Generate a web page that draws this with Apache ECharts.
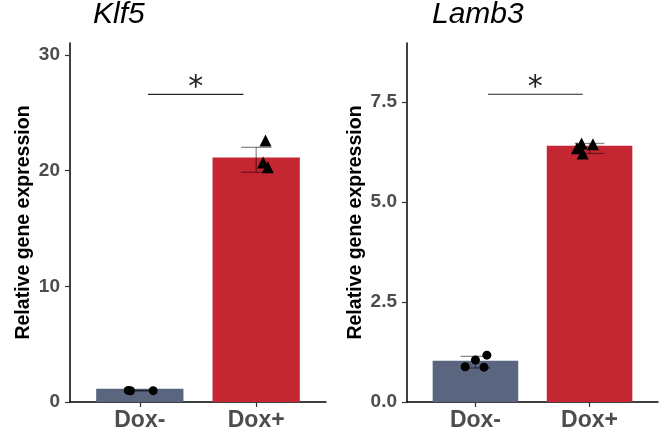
<!DOCTYPE html>
<html><head><meta charset="utf-8">
<script src="https://cdn.jsdelivr.net/npm/echarts@6/dist/echarts.min.js"></script>
<style>html,body{margin:0;padding:0;background:#fff}#c{width:664px;height:433px}</style>
</head><body><div id="c"></div>
<script>
// ---------- data ----------
const categories = ['Dox-', 'Dox+'];

const klf5Means = [1.15, 21.15];
const klf5ErrLow = [0.96, 19.86];
const klf5ErrHigh = [1.0, 22.02];
const klf5MinusPoints = [1.0, 0.97, 0.98];
const klf5MinusJitter = [-0.10, -0.08, 0.115];
const klf5PlusPoints = [22.6, 20.7, 20.3];
const klf5PlusJitter = [0.08, 0.06, 0.10];
const klf5Ticks = [0, 10, 20, 30];
const klf5YMax = 31.04;
const klf5Sig = [1.07, 1.89, 26.6];

const lamb3Means = [1.03, 6.40];
const lamb3ErrLow = [0.85, 6.21];
const lamb3ErrHigh = [1.14, 6.46];
const lamb3MinusPoints = [0.88, 1.05, 1.17, 0.87];
const lamb3MinusJitter = [-0.09, 0.0, 0.10, 0.075];
const lamb3PlusPoints = [6.46, 6.44, 6.34, 6.21];
const lamb3PlusJitter = [-0.07, 0.03, -0.11, -0.06];
const lamb3Ticks = [0, 2.5, 5, 7.5];
const lamb3YMax = 8.97;
const lamb3Sig = [1.11, 1.94, 7.69];

// ---------- styles ----------
const FONT = 'Liberation Sans';
const barColors = ['#5a6580', '#c42731'];
const W = 664;
const grids = [
  {left: 70, right: 338, top: 43, bottom: 31},
  {left: 407, right: 6, top: 43, bottom: 31}
];
const xMin = 0.4, xMax = 2.6;

function gridWidth(g) { return W - g.left - g.right; }

function xAxisDef(i) {
  return {
    type: 'value', gridIndex: i, min: xMin, max: xMax,
    splitLine: {show: false},
    axisLine: {show: true, lineStyle: {color: '#000', width: 1.5}},
    axisTick: {show: true, customValues: [1, 2], length: 5, lineStyle: {color: '#333', width: 1.2}},
    axisLabel: {
      customValues: [1, 2], margin: 7,
      formatter: v => categories[Math.round(v) - 1],
      fontFamily: FONT, fontSize: 23, fontWeight: 'bold', color: '#4d4d4d'
    }
  };
}
function yAxisDef(i, ticks, ymax, digits, nameGap) {
  return {
    type: 'value', gridIndex: i, min: 0, max: ymax,
    splitLine: {show: false},
    axisLine: {show: true, lineStyle: {color: '#000', width: 1.5}},
    axisTick: {show: true, customValues: ticks, length: 5, lineStyle: {color: '#333', width: 1.2}},
    axisLabel: {
      customValues: ticks, margin: 10,
      formatter: v => v.toFixed(digits),
      fontFamily: FONT, fontSize: 19, fontWeight: 'bold', color: '#4d4d4d'
    },
    name: 'Relative gene expression', nameLocation: 'middle', nameGap: nameGap,
    nameTextStyle: {fontFamily: FONT, fontSize: 19.5, fontWeight: 'bold', color: '#000'}
  };
}

function errorRender(capHalf) {
  return function (params, api) {
    const x = api.value(0), lo = api.value(1), hi = api.value(2);
    const pLo = api.coord([x, lo]), pHi = api.coord([x, hi]);
    const l = api.coord([x - capHalf, lo])[0], r = api.coord([x + capHalf, lo])[0];
    const st = {stroke: 'rgba(0,0,0,0.45)', lineWidth: 1.3};
    return {type: 'group', children: [
      {type: 'line', shape: {x1: pLo[0], y1: pLo[1], x2: pHi[0], y2: pHi[1]}, style: st},
      {type: 'line', shape: {x1: l, y1: pLo[1], x2: r, y2: pLo[1]}, style: st},
      {type: 'line', shape: {x1: l, y1: pHi[1], x2: r, y2: pHi[1]}, style: st}
    ]};
  };
}
function sigRender(params, api) {
  const a = api.coord([api.value(0), api.value(2)]);
  const b = api.coord([api.value(1), api.value(2)]);
  return {type: 'group', children: [
    {type: 'line', shape: {x1: a[0], y1: a[1], x2: b[0], y2: b[1]}, style: {stroke: '#2b2222', lineWidth: 1.2}},
    {type: 'text', style: {text: '*', x: (a[0] + b[0]) / 2, y: a[1] - 6, textAlign: 'center', textVerticalAlign: 'middle',
      font: '30px "DejaVu Sans"', fill: '#222'}}
  ]};
}

function panelSeries(i, means, lo, hi, minusPts, minusJit, plusPts, plusJit, sig) {
  const bw = 0.75 * gridWidth(grids[i]) / (xMax - xMin);
  return [
    {type: 'bar', xAxisIndex: i, yAxisIndex: i, barWidth: bw, z: 1,
     data: means.map((v, k) => ({value: [k + 1, v], itemStyle: {color: barColors[k]}}))},
    {type: 'custom', xAxisIndex: i, yAxisIndex: i, z: 3, renderItem: errorRender(0.13),
     encode: {x: 0, y: [1, 2]},
     data: means.map((v, k) => [k + 1, lo[k], hi[k]])},
    {type: 'scatter', xAxisIndex: i, yAxisIndex: i, z: 4, symbol: 'circle', symbolSize: 9,
     itemStyle: {color: '#000', opacity: 1},
     data: minusPts.map((v, k) => [1 + minusJit[k], v])},
    {type: 'scatter', xAxisIndex: i, yAxisIndex: i, z: 4, symbol: 'triangle', symbolSize: 12,
     itemStyle: {color: '#000', opacity: 1},
     data: plusPts.map((v, k) => [2 + plusJit[k], v])},
    {type: 'custom', xAxisIndex: i, yAxisIndex: i, z: 5, renderItem: sigRender,
     encode: {x: [0, 1], y: 2}, data: [sig]}
  ];
}

const chart = echarts.init(document.getElementById('c'), null, {renderer: 'canvas'});
chart.setOption({
  backgroundColor: '#fff',
  animation: false,
  title: [
    {text: 'Klf5', left: 93, top: 0, padding: 0,
     textStyle: {fontFamily: FONT, fontSize: 30, fontStyle: 'italic', fontWeight: 'normal', color: '#000'}},
    {text: 'Lamb3', left: 432, top: 0, padding: 0,
     textStyle: {fontFamily: FONT, fontSize: 30, fontStyle: 'italic', fontWeight: 'normal', color: '#000'}}
  ],
  grid: grids,
  xAxis: [xAxisDef(0), xAxisDef(1)],
  yAxis: [yAxisDef(0, klf5Ticks, klf5YMax, 0, 36), yAxisDef(1, lamb3Ticks, lamb3YMax, 1, 41)],
  series: [
    ...panelSeries(0, klf5Means, klf5ErrLow, klf5ErrHigh, klf5MinusPoints, klf5MinusJitter, klf5PlusPoints, klf5PlusJitter, klf5Sig),
    ...panelSeries(1, lamb3Means, lamb3ErrLow, lamb3ErrHigh, lamb3MinusPoints, lamb3MinusJitter, lamb3PlusPoints, lamb3PlusJitter, lamb3Sig)
  ]
});
</script>
</body></html>
